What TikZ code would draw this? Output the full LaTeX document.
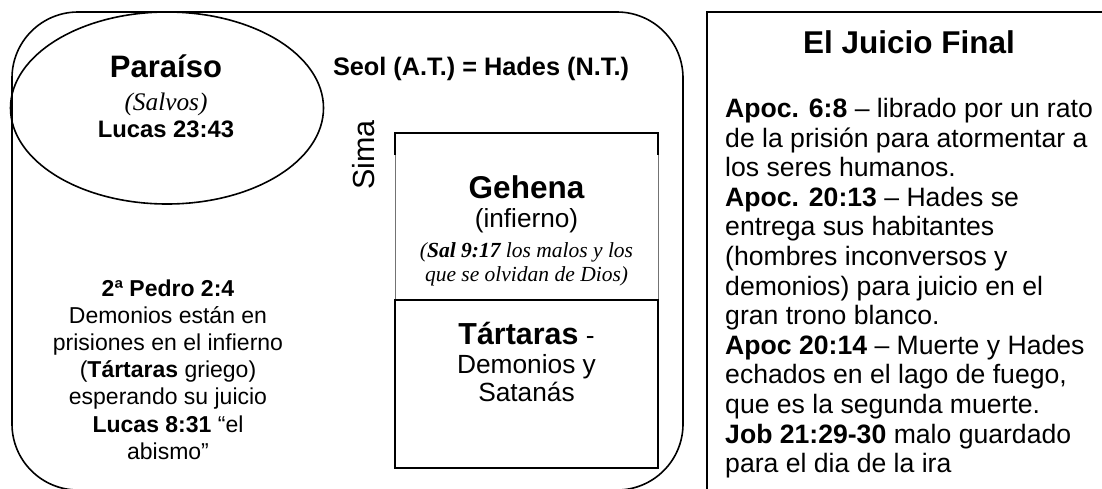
\documentclass[tikz,border=0pt]{standalone}
\usepackage{fontspec}
\usetikzlibrary{shapes.geometric}
\setmainfont{Liberation Sans}
\newfontfamily\serifst{Liberation Serif}
\newcommand{\setfs}[1]{\fontsize{#1}{#1}\selectfont}
\begin{document}
\begin{tikzpicture}[x=1pt,y=-1pt,
  txt/.style={inner sep=0pt, anchor=base},
  ltxt/.style={inner sep=0pt, anchor=base west},
  frame/.style={line width=1.6pt},
  thinside/.style={line width=0.7pt, black!55}]
\useasboundingbox (0,0) rectangle (1102,488);
\clip (0,0) rectangle (1102,488);
% Seol / Hades region
\draw[frame, rounded corners=66pt] (12,12) rectangle (683,490);
% Paraiso ellipse
\node[frame, draw, ellipse, minimum width=313pt, minimum height=192pt, inner sep=0pt] (par) at (167,108) {};
% Gehena / Tartaras box
\coordinate (g1) at (395,133); \coordinate (g2) at (658,133);
\coordinate (g3) at (395,155); \coordinate (g4) at (658,155);
\coordinate (g5) at (395,300); \coordinate (g6) at (658,300);
\coordinate (g7) at (395,468); \coordinate (g8) at (658,468);
\draw[line width=1.4pt] (g3) -- (g1) -- (g2) -- (g4);
\draw[thinside] (g3) -- (g5) (g4) -- (g6);
\draw[line width=1.4pt] (g5) -- (g6) -- (g8) -- (g7) -- cycle;
% Right box (Juicio Final)
\coordinate (j1) at (1110,12); \coordinate (j2) at (707,12); \coordinate (j3) at (707,495);
\draw[line width=1.9pt] (j1) -- (j2) -- (j3);

% Texts in ellipse
\node[txt, font=\setfs{31}\bfseries] (tpar) at (166,77) {Paraíso};
\node[txt, font=\serifst\itshape\setfs{25.3}] (tsal) at (166,110) {(Salvos)};
\node[txt, font=\setfs{23.8}\bfseries] (tluc) at (166,137) {Lucas 23:43};
% Seol
\node[txt, font=\setfs{25.3}\bfseries] (tseol) at (481,75) {Seol (A.T.) = Hades (N.T.)};
% Sima
\node[rotate=90, inner sep=0pt] (tsima) at (364,155) {\setfs{30.5}Sima};
% Gehena
\node[txt, font=\setfs{31.5}\bfseries] (tgeh) at (526.5,198) {Gehena};
\node[txt, font=\setfs{26.2}] (tinf) at (526.5,227) {(infierno)};
\node[txt, font=\serifst\itshape\setfs{21.5}] (tsal1) at (526.5,257) {(\textbf{Sal 9:17} los malos y los};
\node[txt, font=\serifst\itshape\setfs{21.5}] (tsal2) at (526.5,281) {que se olvidan de Dios)};
% Tartaras
\node[txt, font=\setfs{26.3}] (ttar) at (526.5,344) {{\setfs{30.4}\bfseries Tártaras} -};
\node[txt, font=\setfs{26.3}] (tdem) at (526.5,373) {Demonios y};
\node[txt, font=\setfs{26.3}] (tsat) at (526.5,401) {Satanás};
% Left block
\foreach \t [count=\i] in {{\textbf{2ª Pedro 2:4}},{Demonios están en},{prisiones en el infierno},{(\textbf{Tártaras} griego)},{esperando su juicio},{\textbf{Lucas 8:31} “el},{abismo”}}
  \node[txt, font=\setfs{23}] (left\i) at (168,{296+(\i-1)*27.2}) {\t};
% Right box texts
\node[txt, font=\setfs{31.5}\bfseries] (ttit) at (909,53) {El Juicio Final};
\foreach \t [count=\i] in {{\textbf{Apoc. 6:8} – librado por un rato},{de la prisión para atormentar a},{los seres humanos.},{\textbf{Apoc. 20:13} – Hades se},{entrega sus habitantes},{(hombres inconversos y},{demonios) para juicio en el},{gran trono blanco.},{\textbf{Apoc 20:14} – Muerte y Hades},{echados en el lago de fuego,},{que es la segunda muerte.},{\textbf{Job 21:29-30} malo guardado},{para el dia de la ira}}
  \node[ltxt, font=\setfs{26.6}] (right\i) at (725,{117.5+(\i-1)*29.6}) {\t};
\end{tikzpicture}
\end{document}
